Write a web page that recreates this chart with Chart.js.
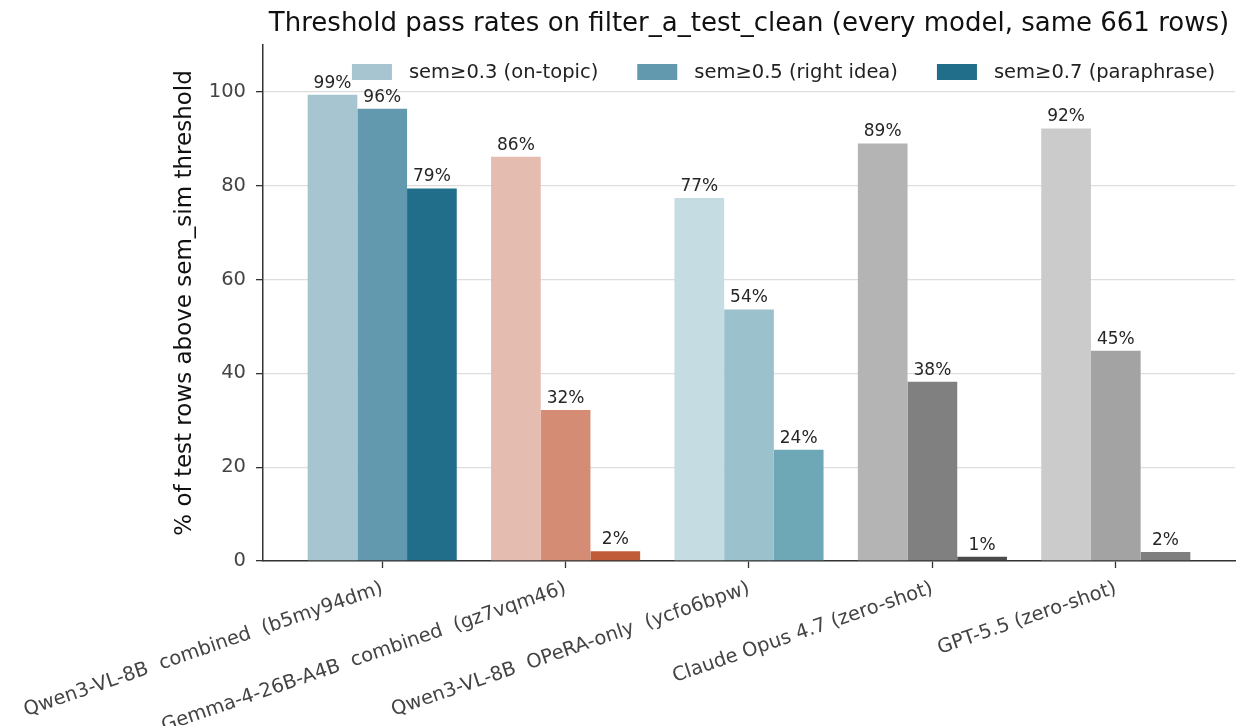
<!DOCTYPE html>
<html>
<head>
<meta charset="utf-8">
<script src="https://cdn.jsdelivr.net/npm/chart.js@4.4.1/dist/chart.umd.min.js"></script>
<style>
  html, body { margin: 0; padding: 0; background: #fff; }
  #wrap { width: 1236px; height: 726px; }
</style>
</head>
<body>
<div id="wrap"><canvas id="passChart" width="1236" height="726"></canvas></div>
<script>
  // data
  var models = [
    'Qwen3-VL-8B  combined  (b5my94dm)',
    'Gemma-4-26B-A4B  combined  (gz7vqm46)',
    'Qwen3-VL-8B  OPeRA-only  (ycfo6bpw)',
    'Claude Opus 4.7 (zero-shot)',
    'GPT-5.5 (zero-shot)'
  ];
  var seriesNames = ['sem\u22650.3 (on-topic)', 'sem\u22650.5 (right idea)', 'sem\u22650.7 (paraphrase)'];
  var pass03 = [99.4, 86.2, 77.4, 89.0, 92.2];
  var pass05 = [96.4, 32.2, 53.6, 38.2, 44.8];
  var pass07 = [79.4, 2.1, 23.7, 0.9, 1.9];
  var yTicks = [0, 20, 40, 60, 80, 100];
  var chartTitle = 'Threshold pass rates on filter_a_test_clean (every model, same 661 rows)';
  var yTitle = '% of test rows above sem_sim threshold';

  // colours per threshold, one per model group
  var colors03 = ['#a7c5d0', '#e4bdb0', '#c5dce2', '#b4b4b4', '#cbcbcb'];
  var colors05 = ['#6399ae', '#d48c74', '#9bc1cc', '#808080', '#a3a3a3'];
  var colors07 = ['#206e8a', '#c05c38', '#6ea8b7', '#4b4b4b', '#7f7f7f'];

  var FONT = "'DejaVu Sans', sans-serif";

  function toPoints(arr) {
    return arr.map(function(v, i) { return { x: i, y: v }; });
  }

  // percentage labels above each bar
  var valueLabels = {
    id: 'valueLabels',
    afterDatasetsDraw: function(chart) {
      var ctx = chart.ctx;
      ctx.save();
      ctx.font = '17px ' + FONT;
      ctx.fillStyle = '#262626';
      ctx.textAlign = 'center';
      ctx.textBaseline = 'bottom';
      chart.data.datasets.forEach(function(ds, di) {
        chart.getDatasetMeta(di).data.forEach(function(bar, i) {
          ctx.fillText(Math.round(ds.data[i].y) + '%', bar.x, bar.y - 3);
        });
      });
      ctx.restore();
    }
  };

  // title centred over the axes, legend inside the top of the plot
  var titleAndLegend = {
    id: 'titleAndLegend',
    afterDraw: function(chart) {
      var ctx = chart.ctx, area = chart.chartArea;
      ctx.save();
      ctx.font = '26px ' + FONT;
      ctx.fillStyle = '#111';
      ctx.textAlign = 'center';
      ctx.textBaseline = 'alphabetic';
      ctx.fillText(chartTitle, (area.left + area.right) / 2, 31);

      ctx.font = '19.5px ' + FONT;
      ctx.textAlign = 'left';
      ctx.textBaseline = 'middle';
      var legendColors = [colors03[0], colors05[0], colors07[0]];
      var boxW = 40, boxH = 16, gap = 17, itemPad = 39;
      var total = 0;
      seriesNames.forEach(function(name, k) {
        total += boxW + gap + ctx.measureText(name).width + (k < seriesNames.length - 1 ? itemPad : 0);
      });
      var x = area.right - 20 - total, y = 72;
      seriesNames.forEach(function(name, k) {
        ctx.fillStyle = legendColors[k];
        ctx.fillRect(x, y - boxH / 2, boxW, boxH);
        ctx.fillStyle = '#222';
        ctx.fillText(name, x + boxW + gap, y + 1);
        x += boxW + gap + ctx.measureText(name).width + itemPad;
      });
      ctx.restore();
    }
  };

  var ctx = document.getElementById('passChart');

  new Chart(ctx, {
    type: 'bar',
    data: {
      datasets: [
        { label: seriesNames[0], data: toPoints(pass03), backgroundColor: colors03 },
        { label: seriesNames[1], data: toPoints(pass05), backgroundColor: colors05 },
        { label: seriesNames[2], data: toPoints(pass07), backgroundColor: colors07 }
      ]
    },
    options: {
      responsive: false,
      animation: false,
      layout: { padding: { left: 165, right: 1, top: 45, bottom: 0 } },
      datasets: { bar: { categoryPercentage: 0.813, barPercentage: 1.0, borderWidth: 0 } },
      plugins: {
        legend: { display: false },
        tooltip: { enabled: false }
      },
      scales: {
        x: {
          type: 'linear',
          offset: false,
          min: -0.65,
          max: 4.65,
          afterBuildTicks: function(scale) {
            scale.ticks = models.map(function(m, i) { return { value: i }; });
          },
          afterFit: function(scale) {
            scale.height = 165;
            scale.paddingLeft = 0;
            scale.paddingRight = 0;
          },
          ticks: {
            autoSkip: false,
            minRotation: 19,
            maxRotation: 19,
            padding: 9,
            color: '#444',
            font: { family: FONT, size: 19.5 },
            callback: function(v) { return models[v]; }
          },
          grid: { offset: false, drawOnChartArea: false, drawTicks: true, tickLength: 7, tickColor: '#333', tickWidth: 1.3 },
          border: { color: '#333', width: 1.5 }
        },
        y: {
          min: 0,
          max: 110,
          afterBuildTicks: function(scale) {
            scale.ticks = yTicks.map(function(v) { return { value: v }; });
          },
          afterFit: function(scale) { scale.width = 98; },
          ticks: {
            padding: 10,
            color: '#444',
            font: { family: FONT, size: 19.5 }
          },
          grid: { color: '#dddddd', lineWidth: 1.3, tickLength: 7, tickColor: '#333', tickWidth: 1.3 },
          border: { color: '#333', width: 1.5 },
          title: {
            display: true,
            text: yTitle,
            color: '#111',
            font: { family: FONT, size: 23 },
            padding: { top: 6, bottom: 0 }
          }
        }
      }
    },
    plugins: [valueLabels, titleAndLegend]
  });
</script>
</body>
</html>
